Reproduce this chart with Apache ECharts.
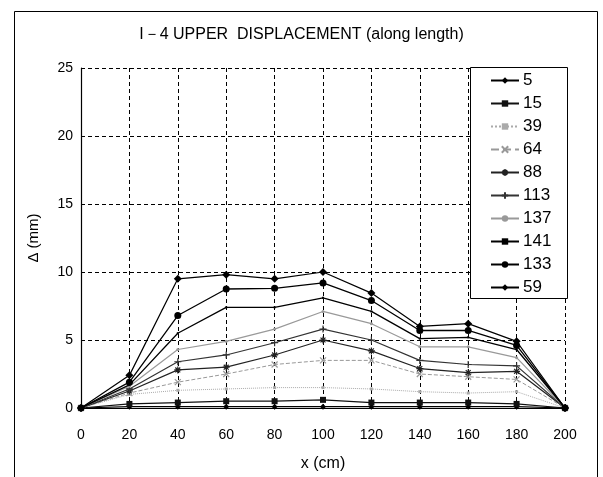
<!DOCTYPE html>
<html><head><meta charset="utf-8">
<script src="https://cdn.jsdelivr.net/npm/echarts@6/dist/echarts.min.js"></script>
<style>html,body{margin:0;padding:0;background:#fff}#c{width:603px;height:477px}</style>
</head><body><div id="c"></div>
<script>
const xValues = [0, 20, 40, 60, 80, 100, 120, 140, 160, 180, 200];
const seriesNames = ['5', '15', '39', '64', '88', '113', '137', '141', '133', '59'];
const s5   = [0, 0.1, 0.1, 0.1, 0.1, 0.1, 0.1, 0.1, 0.1, 0.1, 0];
const s15  = [0, 0.3, 0.4, 0.5, 0.5, 0.6, 0.4, 0.4, 0.4, 0.3, 0];
const s39  = [0, 1.0, 1.3, 1.4, 1.5, 1.5, 1.4, 1.2, 1.1, 1.2, 0];
const s64  = [0, 1.1, 1.9, 2.5, 3.2, 3.5, 3.5, 2.5, 2.3, 2.1, 0];
const s88  = [0, 1.25, 2.8, 3.0, 3.9, 5.0, 4.2, 2.9, 2.6, 2.7, 0];
const s113 = [0, 1.4, 3.4, 3.9, 4.8, 5.8, 5.0, 3.5, 3.2, 3.1, 0];
const s137 = [0, 1.6, 4.3, 4.9, 5.8, 7.1, 6.2, 4.5, 4.5, 3.7, 0];
const s141 = [0, 1.7, 5.5, 7.4, 7.4, 8.1, 7.1, 5.1, 5.2, 4.3, 0];
const s133 = [0, 1.9, 6.8, 8.75, 8.8, 9.2, 7.9, 5.7, 5.7, 4.6, 0];
const s59  = [0, 2.4, 9.5, 9.8, 9.5, 10.0, 8.45, 6.0, 6.2, 4.9, 0];
const yTicks = [0, 5, 10, 15, 20, 25];

const allValues = [s5, s15, s39, s64, s88, s113, s137, s141, s133, s59];
const styles = [
  {color:'#000', symbol:'diamond', size:6, width:1.2},
  {color:'#111', symbol:'rect', size:6, width:1.2},
  {color:'#aaa', symbol:'rect', size:3, width:1, type:'dotted'},
  {color:'#999', symbol:'path://M0,0L10,10M10,0L0,10', size:6, width:1, stroke:true, type:'dashed'},
  {color:'#222', symbol:'path://M5,0L5,10M0,5L10,5M1.5,1.5L8.5,8.5M8.5,1.5L1.5,8.5', size:7, width:1.2, stroke:true},
  {color:'#333', symbol:'path://M5,0L5,10M0,5L10,5', size:7, width:1.2, stroke:true},
  {color:'#999', symbol:'circle', size:3, width:1.2},
  {color:'#000', symbol:'rect', size:2, width:1.3},
  {color:'#000', symbol:'circle', size:7, width:1.3},
  {color:'#000', symbol:'diamond', size:8, width:1.2}
];
const FONT = "'Liberation Sans','DejaVu Sans',sans-serif";

const series = seriesNames.map((n, i) => {
  const st = styles[i];
  return {
    name: n, type: 'line',
    data: xValues.map((x, j) => [x, allValues[i][j]]),
    symbol: st.symbol, symbolSize: st.size, showSymbol: true,
    lineStyle: {color: st.color, width: st.width, type: st.type || 'solid'},
    itemStyle: st.stroke ? {color: '#fff', borderColor: st.color, borderWidth: 1.2} : {color: st.color, borderWidth: 0},
    emphasis: {disabled: true},
    animation: false,
    z: 2 + i
  };
});

const chart = echarts.init(document.getElementById('c'));
chart.setOption({
  backgroundColor: '#fff',
  animation: false,
  title: {
    text: 'I－4 UPPER  DISPLACEMENT (along length)',
    left: 'center', top: 22,
    textStyle: {fontFamily: FONT, fontSize: 16, fontWeight: 'normal', color: '#000'}
  },
  grid: {left: 81, right: 38, top: 68, bottom: 69},
  xAxis: {
    type: 'value', min: 0, max: 200, interval: 20,
    name: 'x (cm)', nameLocation: 'middle', nameGap: 48,
    nameTextStyle: {fontFamily: FONT, fontSize: 16, color: '#000'},
    axisLine: {show: true, lineStyle: {color: '#000', width: 1.2}},
    axisTick: {show: false},
    axisLabel: {fontFamily: FONT, fontSize: 14, color: '#000', margin: 20},
    splitLine: {show: true, lineStyle: {color: '#000', type: [4, 3], width: 1}}
  },
  yAxis: {
    type: 'value', min: 0, max: 25, interval: 5,
    name: 'Δ (mm)', nameLocation: 'middle', nameGap: 40, nameRotate: 90,
    nameTextStyle: {fontFamily: FONT, fontSize: 15, color: '#000'},
    axisLine: {show: true, lineStyle: {color: '#000', width: 1.2}},
    axisTick: {show: true, length: 3, inside: true, lineStyle: {color: '#000'}},
    axisLabel: {fontFamily: FONT, fontSize: 14, color: '#000', margin: 8,
      formatter: v => yTicks.includes(v) ? String(v) : ''},
    splitLine: {show: true, lineStyle: {color: '#000', type: [4, 3], width: 1}}
  },
  graphic: [
    {type: 'rect', z: -1, shape: {x: 14.5, y: 11.5, width: 583, height: 470}, style: {fill: 'none', stroke: '#000', lineWidth: 1}},
    {type: 'rect', z: 3, shape: {x: 470.5, y: 67.5, width: 97, height: 231}, style: {fill: '#fff', stroke: '#000', lineWidth: 1}}
  ],
  legend: {
    orient: 'vertical', left: 490, top: 72, padding: 0, z: 4,
    itemWidth: 28, itemHeight: 8, itemGap: 6,
    textStyle: {fontFamily: FONT, fontSize: 17, color: '#000', padding: [0, 0, 0, -1]},
    data: seriesNames
  },
  series: series
});
</script></body></html>
